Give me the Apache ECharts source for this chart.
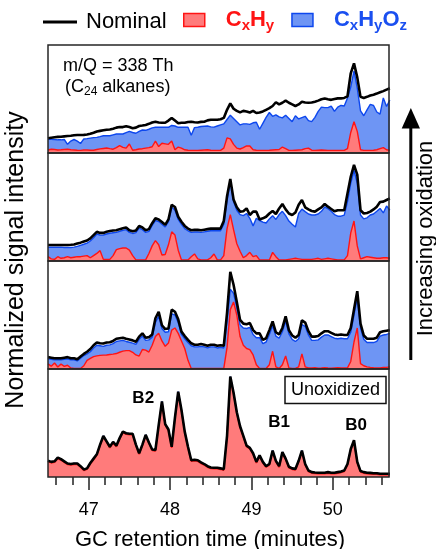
<!DOCTYPE html>
<html>
<head>
<meta charset="utf-8">
<script src="https://cdn.jsdelivr.net/npm/echarts@6/dist/echarts.min.js"></script>
<style>
html, body { margin: 0; padding: 0; background: #fff; }
#main { width: 436px; height: 549px; }
</style>
</head>
<body>
<div id="main"></div>
<script>
// retention time sampling (minutes)
var t0 = 46.5, dt = 0.04;
var xMin = 46.5, xMax = 50.69;
var majorTicks = [47, 48, 49, 50];
var minorTicks = [46.6, 46.8, 47.2, 47.4, 47.6, 47.8, 48.2, 48.4, 48.6, 48.8,
                  49.2, 49.4, 49.6, 49.8, 50.2, 50.4, 50.6];

// panel 1 (most oxidized, top)
var p1Nominal = [
  13.6, 14.2, 14.6, 14.9, 15.1, 15.4, 15.7, 16, 16.4, 16.7,
  16.7, 16.8, 17.2, 17.8, 18.8, 19.9, 20.5, 21, 21.5, 21.8,
  22.5, 23.5, 24, 24, 24.8, 24, 23, 23.5, 25, 25.4,
  26, 27, 28.3, 29, 28.3, 28, 28, 30, 32.5, 30,
  27.5, 28, 28, 28.7, 29, 28.5, 28.3, 28.8, 29, 30.2,
  30.8, 30.8, 30.8, 31.2, 32.5, 40, 46, 41, 39, 37.6,
  39, 38.5, 37.5, 39, 37, 37.5, 38.5, 40, 41.5, 43.5,
  47, 45, 46.5, 48.5, 46.5, 45, 43.5, 45, 47.4, 46.8,
  46.5, 46.8, 47.5, 48.5, 49.8, 50.5, 49.8, 49.2, 50, 50.6,
  50.6, 51, 52.5, 73.8, 83, 70, 52, 51, 52, 53.2,
  54, 55, 56.2, 57.3, 58.7, 60
];
var p1Total = [
  12.7, 12.7, 12.5, 12.2, 12.2, 12.5, 8, 11, 12.5, 11,
  8.8, 13, 13.3, 13.8, 14.2, 14.5, 15.2, 16, 16, 16,
  16.8, 17.6, 17.6, 17.6, 18.8, 20, 19, 18.3, 20, 21.3,
  21, 22, 23.3, 23.8, 23.8, 23.8, 23.8, 23.8, 25.5, 25,
  23.8, 23.8, 23.8, 23.8, 16.5, 23.5, 23.8, 24.5, 24.8, 25,
  24.2, 24, 25, 26, 27, 31, 35, 32, 29, 26,
  27, 27, 26.5, 28, 28.5, 22, 27.5, 33, 37.5, 34,
  35.3, 33.5, 32.5, 35, 32, 29, 34.5, 31.5, 32.8, 34,
  30, 29, 33, 38.5, 42.5, 42, 42, 43.5, 38.5, 42.5,
  44, 43.5, 51, 61, 76, 60, 39, 34.5, 40, 45,
  44, 38, 36, 51, 43, 49
];
var p1Red = [
  2.8, 3.5, 3.2, 2.8, 3, 3.3, 3.5, 3, 2.8, 2.5,
  2.4, 2.8, 2.8, 2.5, 2.5, 3.2, 3.8, 4.2, 4.6, 4,
  3.5, 5, 6.8, 5.2, 4.5, 8.3, 2.5, 3, 3.7, 4,
  4.5, 5, 5.8, 11, 6, 9, 8.5, 8, 11, 3,
  5.5, 4.5, 3, 2.5, 2.4, 2.4, 2.4, 2.6, 2.8, 3,
  2.6, 2.4, 2.4, 2.4, 4.5, 14, 13, 8, 4.5, 3.7,
  5, 6.5, 6.5, 3, 2.6, 2.4, 2.4, 2.4, 2.5, 2.8,
  3, 3.2, 5.5, 4, 2.4, 2.4, 2.6, 2.8, 3, 4,
  4.5, 2.6, 2.4, 2.6, 2.8, 2.6, 2.4, 2.4, 2.4, 2.4,
  2.4, 2.4, 4, 19, 29, 20, 3, 2.4, 2.4, 2.4,
  2.6, 3, 4, 5, 3, 2.4
];

// panel 2
var p2Nominal = [
  14.8, 14.8, 14.8, 14.8, 14.8, 14.8, 14.8, 15, 15.3, 16.2,
  17, 18, 19, 21, 24, 27, 26, 26, 27, 27.7,
  28.2, 28.5, 29.5, 30.3, 31, 28.5, 27.5, 28.3, 32.5, 31,
  28.5, 29.5, 35, 39.5, 38.5, 36, 33.5, 38.5, 52, 50,
  41, 36.4, 32.5, 30, 28.5, 28.8, 28.8, 28.5, 29, 29.5,
  30, 30, 30, 30, 37, 60, 76, 57, 49.7, 45.7,
  46, 48.7, 42.6, 45.7, 45.7, 38.5, 39.5, 41, 44, 46.3,
  43.5, 48.7, 52.8, 47.8, 44, 42.6, 45, 52, 56.5, 49.7,
  47.8, 46.3, 45.7, 47.8, 49.7, 52.8, 50.3, 48.2, 46, 47,
  47, 47, 62.6, 78, 89, 80, 47, 44, 44.5, 45.7,
  47.8, 50.3, 54.6, 55, 56.5, 58
];
var p2Total = [
  12.8, 12.8, 12.8, 12.8, 12.8, 12.5, 12.5, 12.5, 12.8, 13.5,
  14.5, 15.5, 16.5, 18.5, 21.5, 25, 24, 24, 25, 25.7,
  26.2, 26.5, 27.5, 28.3, 29, 26.5, 25.5, 26.3, 30.5, 29,
  26.5, 27.5, 33, 37.5, 36.5, 34, 31.5, 36.5, 50, 47,
  38.5, 34, 30, 28, 26.5, 26.8, 26.8, 26.5, 27, 27.5,
  28, 28, 28, 28, 34, 56, 74, 55, 47, 43,
  42, 44, 39.5, 32.5, 39.5, 37.5, 36, 35.2, 39, 42,
  38.5, 43, 46, 42, 37, 34, 31.5, 44, 48, 45.7,
  43.5, 42.6, 42.6, 43.5, 46, 50, 48.5, 46, 43, 41.5,
  41.5, 42.5, 55, 72, 84, 72, 42.6, 39, 40, 42.6,
  43.5, 46, 48.7, 44.5, 51, 47
];
var p2Red = [
  4, 2, 1.5, 4, 2.5, 3, 4, 3, 3.5, 4,
  4, 4.5, 5, 3, 5, 7, 9.6, 1.5, 1.5, 1.5,
  5, 10.5, 11.5, 12, 12, 10, 5, 1, 1, 1,
  1, 7, 14, 18.9, 15, 5.5, 6, 15, 27, 24,
  10, 1, 1, 1, 4, 6.5, 2, 1, 1, 1,
  3, 6.5, 1, 1, 5, 30, 43, 29, 16, 9,
  3, 5, 8, 4, 5, 1, 1, 1, 1, 8,
  4, 1, 1, 1, 1.5, 2, 2.5, 2, 1.5, 1.5,
  1.5, 1.5, 2, 2.5, 1.5, 2, 2.5, 2, 1.5, 1,
  1, 1, 5, 26, 37, 14, 2, 3, 4, 3.5,
  3, 2.5, 2.5, 3, 3, 2.5
];

// panel 3
var p3Nominal = [
  11, 10.5, 10, 10, 10, 10.5, 11, 10, 10, 9,
  11.5, 14, 16, 18.5, 22, 24.5, 23.8, 23.6, 24.5, 24.8,
  26, 28, 28.5, 29, 28, 27.3, 26.5, 25.2, 30, 33,
  29, 29.5, 32, 47, 53, 40.5, 37, 37.5, 55, 53,
  46, 34.6, 30.5, 27, 23.8, 22.5, 22.5, 23.2, 22.5, 21.5,
  22.5, 22.5, 21.5, 22, 21.5, 52, 90, 78, 62, 45.5,
  42, 41.5, 42.5, 36, 33, 33, 27, 28.5, 36, 44,
  34, 32, 38, 48.7, 36, 31, 29, 31.5, 45, 43,
  35, 30, 30, 30.5, 33, 35, 35, 33.5, 32, 31.5,
  32, 31.5, 31.5, 38, 55, 72, 42, 31, 28, 28,
  28, 29, 34, 35, 35.5, 36
];
var p3Total = [
  9.5, 9, 8.5, 8.5, 8.5, 9, 9.5, 8.5, 8.5, 7.5,
  10, 12.5, 14, 16, 19.5, 22, 21.5, 21, 22, 22.3,
  23.5, 25.5, 26, 26.5, 25.5, 24.8, 24, 22.8, 27.5, 30.5,
  26.5, 27, 29.5, 43, 49, 37.5, 34, 34.5, 51, 50,
  43, 32, 28, 24.5, 21.5, 20.5, 20.5, 21, 20.5, 19.5,
  20.5, 20.5, 19.5, 20, 19.5, 45, 74, 70, 57, 41,
  38, 37.5, 38.5, 32, 29, 29, 23.5, 25, 32, 40,
  30.5, 28.5, 34.5, 44.5, 32.5, 27.5, 25.5, 28, 41, 39.5,
  31.5, 26.5, 26.5, 27, 29.5, 31.5, 31.5, 30, 28.5, 28,
  28.5, 28, 28, 34, 50, 66, 38, 27.5, 24.5, 24.5,
  24.5, 25.5, 30.5, 31.5, 32, 33
];
var p3Red = [
  4.7, 2.5, 5.5, 1.8, 4.5, 2.5, 3.5, 1, 0.5, 0.5,
  0.5, 3, 8, 9.8, 11.5, 12.2, 12.6, 12.8, 13, 13.4,
  13.8, 14.3, 15.5, 16.6, 17, 17, 15.5, 13, 12, 18,
  17.5, 15.7, 22, 30, 33, 26, 21, 24, 36, 38,
  33, 26, 19, 8, 0.5, 0.5, 0.5, 0.5, 0.5, 0.5,
  0.5, 0.5, 0.5, 0.5, 0.5, 20, 55, 62, 50, 30,
  22, 19, 18, 13, 4, 0.5, 0.5, 0.5, 4, 16.4,
  2, 0.5, 4, 12, 1, 0.5, 0.5, 2, 14, 2,
  1, 1, 1.2, 0.8, 1, 1.3, 1, 0.8, 1, 1.2,
  1, 1, 1, 7, 25, 38, 5, 3, 2, 1.5,
  1.2, 1, 1, 1.5, 1.5, 2
];

// panel 4 (unoxidized, bottom)
var p4Nominal = [
  15, 14, 14.5, 18, 16.5, 14.5, 12.5, 12, 12.5, 12.5,
  10, 7, 8, 13, 17, 21, 30, 38, 33, 28,
  32.5, 29, 36, 42, 40.5, 40, 40, 30, 22, 30,
  39, 32, 25.5, 25, 48, 70, 49, 44, 28, 55,
  79, 62, 42, 28, 15.5, 16, 15.5, 13.5, 12, 10,
  8.8, 8.6, 8.6, 8, 7.2, 38, 93, 78, 60, 47,
  38, 29, 27, 22, 14, 20, 14, 10, 12, 24.5,
  15, 10, 23, 17, 9.5, 8, 7.5, 15, 24.5, 12,
  6, 4.5, 4.2, 4, 4, 4, 4.5, 4, 4, 4.5,
  5, 6, 12, 26, 34, 14, 5.5, 4.5, 4, 3.8,
  3.5, 3.5, 3, 3, 3, 3
];
var p4Red = [
  14, 13, 13.5, 17, 15.5, 13.5, 11.5, 11, 11.5, 11.5,
  9, 6, 7, 12, 16, 20, 29, 37, 32, 27,
  31.5, 28, 35, 41, 39.5, 39, 39, 29, 21, 29,
  38, 31, 24.5, 24, 47, 69, 48, 43, 27, 54,
  78, 61, 41, 27, 14.5, 15, 14.5, 12.5, 11, 9,
  7.8, 7.6, 7.6, 7, 6.2, 37, 92, 77, 59, 46,
  37, 28, 26, 21, 13, 19, 13, 9, 11, 23.5,
  14, 9, 22, 16, 8.5, 7, 6.5, 14, 23.5, 11,
  5, 3.5, 3.2, 3, 3, 3, 3.5, 3, 3, 3.5,
  4, 5, 11, 25, 33, 13, 4.5, 3.5, 3, 2.8,
  2.5, 2.5, 2, 2, 2, 2
];
var p4Total = p4Nominal;

// peak labels in the unoxidized panel
var peakNames = ['B2', 'B1', 'B0'];
var peakTimes = [47.67, 49.34, 50.285];
var peakHeights = [73, 51, 48];

var panels = [
  { red: p1Red, total: p1Total, nominal: p1Nominal },
  { red: p2Red, total: p2Total, nominal: p2Nominal },
  { red: p3Red, total: p3Total, nominal: p3Nominal },
  { red: p4Red, total: p4Total, nominal: p4Nominal }
];

var FONT = '"Liberation Sans", Arial, Helvetica, sans-serif';
var redFill = '#ff7b7b', redLine = '#ff1414';
var blueFill = '#6e95f4', blueLine = '#0d47ee';
var gridLeft = 48, gridWidth = 341, gridTop = 45, gridH = 108;

function toPairs(vals) {
  return vals.map(function (v, i) {
    return [Math.round((t0 + dt * i) * 100) / 100, v];
  });
}

var grids = [], xAxes = [], yAxes = [], series = [], graphics = [];

panels.forEach(function (p, k) {
  grids.push({ left: gridLeft, width: gridWidth, top: gridTop + gridH * k, height: gridH });
  if (k < 3) {
    xAxes.push({ gridIndex: k, type: 'value', min: xMin, max: xMax, show: false });
  } else {
    xAxes.push({
      gridIndex: k, type: 'value', min: xMin, max: xMax, position: 'bottom',
      axisLine: { show: false }, splitLine: { show: false },
      axisTick: { show: true, customValues: majorTicks, length: 13, lineStyle: { color: '#222', width: 1.5 } },
      axisLabel: { customValues: majorTicks, fontSize: 18, color: '#000', margin: 24, fontFamily: FONT }
    });
  }
  yAxes.push({ gridIndex: k, type: 'value', min: 0, max: 100, show: false });

  series.push({
    type: 'line', name: 'CxHyOz', xAxisIndex: k, yAxisIndex: k, data: toPairs(p.total),
    symbol: 'none', z: 2, itemStyle: { color: blueFill },
    lineStyle: { color: blueLine, width: 1.4 }, areaStyle: { color: blueFill, opacity: 1 }
  });
  series.push({
    type: 'line', name: 'CxHy', xAxisIndex: k, yAxisIndex: k, data: toPairs(p.red),
    symbol: 'none', z: 3, itemStyle: { color: redFill },
    lineStyle: { color: redLine, width: 1.4 }, areaStyle: { color: redFill, opacity: 1 }
  });
  var nom = {
    type: 'line', name: 'Nominal', xAxisIndex: k, yAxisIndex: k, data: toPairs(p.nominal),
    symbol: 'none', z: 4, itemStyle: { color: '#000' },
    lineStyle: { color: '#000', width: 2.6 }
  };
  if (k === 3) {
    nom.markPoint = {
      symbol: 'circle', symbolSize: 1, itemStyle: { color: 'rgba(0,0,0,0)' },
      label: { show: true, position: 'inside', formatter: '{b}', fontSize: 17, fontWeight: 'bold', color: '#000', fontFamily: FONT },
      data: peakNames.map(function (n, i) { return { name: n, coord: [peakTimes[i], peakHeights[i]] }; })
    };
  }
  series.push(nom);

  graphics.push({
    type: 'rect', z: 100, silent: true,
    shape: { x: gridLeft, y: gridTop + gridH * k, width: gridWidth, height: gridH },
    style: { fill: 'none', stroke: '#262626', lineWidth: 1.5 }
  });
});

// minor ticks on the bottom axis
xAxes.push({
  gridIndex: 3, type: 'value', min: xMin, max: xMax, position: 'bottom',
  axisLine: { show: false }, splitLine: { show: false }, axisLabel: { show: false },
  axisTick: { show: true, customValues: minorTicks, length: 8, lineStyle: { color: '#222', width: 1.5 } }
});

graphics.push(
  { type: 'text', x: 63, y: 66, z: 101, style: { text: 'm/Q = 338 Th', fontSize: 18, fontFamily: FONT, fill: '#000', align: 'left', verticalAlign: 'middle' } },
  { type: 'text', x: 65, y: 87, z: 101, style: {
      text: '(C{s|24} alkanes)', fontSize: 18, lineHeight: 22, fontFamily: FONT, fill: '#000', align: 'left', verticalAlign: 'middle',
      rich: { s: { fontSize: 12, lineHeight: 8, verticalAlign: 'bottom', fontFamily: FONT, fill: '#000' } } } },
  { type: 'rect', z: 101, shape: { x: 285, y: 376.5, width: 101, height: 27 }, style: { fill: '#fff', stroke: '#111', lineWidth: 1.5 } },
  { type: 'text', x: 335.5, y: 390, z: 102, style: { text: 'Unoxidized', fontSize: 18, fontFamily: FONT, fill: '#000', align: 'center', verticalAlign: 'middle' } },
  { type: 'text', x: 16, y: 260, rotation: Math.PI / 2, z: 101, style: { text: 'Normalized signal intensity', fontSize: 25, fontFamily: FONT, fill: '#000', align: 'center', verticalAlign: 'middle' } },
  { type: 'text', x: 210, y: 540, z: 101, style: { text: 'GC retention time (minutes)', fontSize: 22, fontFamily: FONT, fill: '#000', align: 'center', verticalAlign: 'middle' } },
  { type: 'line', z: 101, shape: { x1: 410.8, y1: 360, x2: 410.8, y2: 126 }, style: { stroke: '#000', lineWidth: 3 } },
  { type: 'polygon', z: 101, shape: { points: [[401.7, 128.5], [420, 128.5], [410.85, 108]] }, style: { fill: '#000' } },
  { type: 'text', x: 425.5, y: 238.5, rotation: Math.PI / 2, z: 101, style: { text: 'Increasing oxidation', fontSize: 22, fontFamily: FONT, fill: '#000', align: 'center', verticalAlign: 'middle' } }
);

var subRich = {
  r: { color: redLine, fontSize: 22, fontWeight: 'bold', lineHeight: 26, fontFamily: FONT },
  rs: { color: redLine, fontSize: 15, fontWeight: 'bold', lineHeight: 10, verticalAlign: 'bottom', fontFamily: FONT },
  b: { color: '#1a4ff0', fontSize: 22, fontWeight: 'bold', lineHeight: 26, fontFamily: FONT },
  bs: { color: '#1a4ff0', fontSize: 15, fontWeight: 'bold', lineHeight: 10, verticalAlign: 'bottom', fontFamily: FONT }
};

var chart = echarts.init(document.getElementById('main'), null, { renderer: 'canvas' });
chart.setOption({
  animation: false,
  backgroundColor: '#fff',
  legend: [
    {
      left: 43, top: 9, padding: 0, selectedMode: false,
      itemWidth: 34, itemHeight: 3,
      data: [{ name: 'Nominal', icon: 'rect', itemStyle: { color: '#000', borderWidth: 0 } }],
      textStyle: { fontSize: 22, lineHeight: 26, color: '#000', fontFamily: FONT, padding: [0, 0, 0, 4] }
    },
    {
      left: 183, top: 9, padding: 0, selectedMode: false,
      itemWidth: 21, itemHeight: 13, itemGap: 17,
      data: [
        { name: 'CxHy', icon: 'rect', itemStyle: { color: redFill, borderColor: redLine, borderWidth: 1.5 } },
        { name: 'CxHyOz', icon: 'rect', itemStyle: { color: blueFill, borderColor: blueLine, borderWidth: 1.5 } }
      ],
      formatter: function (name) {
        return name === 'CxHy' ? '{r|C}{rs|x}{r|H}{rs|y}' : '{b|C}{bs|x}{b|H}{bs|y}{b|O}{bs|z}';
      },
      textStyle: { padding: [0, 0, 0, 16], rich: subRich }
    }
  ],
  grid: grids,
  xAxis: xAxes,
  yAxis: yAxes,
  series: series,
  graphic: graphics
});
</script>
</body>
</html>
